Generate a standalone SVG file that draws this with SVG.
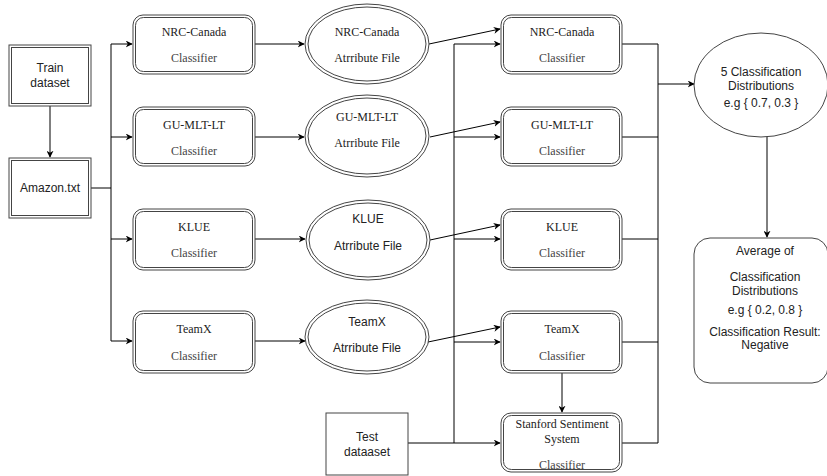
<svg xmlns="http://www.w3.org/2000/svg" width="827" height="476" viewBox="0 0 827 476">
<defs>
<marker id="ah" viewBox="0 0 10 10" refX="9" refY="5" markerWidth="7" markerHeight="7" orient="auto" markerUnits="userSpaceOnUse">
<path d="M0,0 L10,5 L0,10 L3,5 z" fill="#000"/>
</marker>
<style>
.b{fill:none;stroke:#444;stroke-width:1}
.w{fill:#fff;stroke:#444;stroke-width:1}
.c{fill:none;stroke:#000;stroke-width:1}
.a{fill:none;stroke:#000;stroke-width:1;marker-end:url(#ah)}
.s{font-family:"Liberation Sans",Arial,sans-serif;font-size:12px;fill:#222;text-anchor:middle}
.f{font-family:"Liberation Serif","Times New Roman",serif;font-size:12px;fill:#222;text-anchor:middle}
.g{fill:#444}
</style>
</defs>
<rect width="827" height="476" fill="#fff"/>
<g id="connectors">
<path class="a" d="M50,106 L50,157"/>
<path class="c" d="M91,188 L111,188 M111,44 L111,341"/>
<path class="a" d="M111,44 L132,44"/>
<path class="a" d="M111,137 L132,137"/>
<path class="a" d="M111,239 L132,239"/>
<path class="a" d="M111,341 L132,341"/>
<path class="a" d="M255,44 L304,44"/>
<path class="a" d="M255,137 L304,137"/>
<path class="a" d="M255,239 L305,239"/>
<path class="a" d="M255,341 L305,341"/>
<path class="a" d="M429,44 L500,29"/>
<path class="a" d="M430,137 L500,122"/>
<path class="a" d="M430,240 L500,225"/>
<path class="a" d="M428,342 L500,327"/>
<path class="c" d="M408,443 L454,443 M454,44 L454,443"/>
<path class="a" d="M454,44 L500,44"/>
<path class="a" d="M454,137 L500,137"/>
<path class="a" d="M454,239 L500,239"/>
<path class="a" d="M454,342 L500,342"/>
<path class="a" d="M454,443 L500,443"/>
<path class="a" d="M562,373 L562,412"/>
<path class="c" d="M622,44 L658,44 M622,137 L658,137 M622,239 L658,239 M622,342 L658,342 M622,443 L658,443 M658,44 L658,443"/>
<path class="a" d="M658,84 L694,84"/>
<path class="a" d="M767,137 L767,237"/>
</g>
<g id="train">
<rect class="b" x="9" y="45" width="82" height="61"/>
<rect class="b" x="11.5" y="47.5" width="77" height="56"/>
<text class="s" x="50" y="72">Train</text>
<text class="s" x="50" y="87">dataset</text>
</g>
<g id="amazon">
<rect class="b" x="9" y="158" width="82" height="60"/>
<rect class="b" x="11.5" y="160.5" width="77" height="55"/>
<text class="s" x="50" y="192">Amazon.txt</text>
</g>
<g id="c1-nrc">
<rect class="b" x="133" y="15" width="122" height="59" rx="10"/>
<rect class="b" x="135.5" y="17.5" width="117" height="54" rx="8"/>
<text class="f" x="194" y="36">NRC-Canada</text>
<text class="f g" x="194" y="62">Classifier</text>
</g>
<g id="c1-gu">
<rect class="b" x="133" y="107" width="122" height="59" rx="10"/>
<rect class="b" x="135.5" y="109.5" width="117" height="54" rx="8"/>
<text class="f" x="194" y="129">GU-MLT-LT</text>
<text class="f g" x="194" y="155">Classifier</text>
</g>
<g id="c1-klue">
<rect class="b" x="133" y="209" width="122" height="61" rx="10"/>
<rect class="b" x="135.5" y="211.5" width="117" height="56" rx="8"/>
<text class="f" x="194" y="231">KLUE</text>
<text class="f g" x="194" y="257">Classifier</text>
</g>
<g id="c1-teamx">
<rect class="b" x="133" y="311" width="122" height="62" rx="10"/>
<rect class="b" x="135.5" y="313.5" width="117" height="57" rx="8"/>
<text class="f" x="194" y="333">TeamX</text>
<text class="f g" x="194" y="360">Classifier</text>
</g>
<g id="e-nrc">
<ellipse class="b" cx="367" cy="44" rx="62" ry="40"/>
<ellipse class="b" cx="367" cy="44" rx="59" ry="37"/>
<text class="f" x="367" y="36">NRC-Canada</text>
<text class="f" x="367" y="62">Atrribute File</text>
</g>
<g id="e-gu">
<ellipse class="b" cx="367" cy="136" rx="62" ry="41"/>
<ellipse class="b" cx="367" cy="136" rx="59" ry="38"/>
<text class="f" x="367" y="121">GU-MLT-LT</text>
<text class="f" x="367" y="147">Atrribute File</text>
</g>
<g id="e-klue">
<ellipse class="b" cx="368" cy="240" rx="62" ry="40"/>
<ellipse class="b" cx="368" cy="240" rx="59" ry="37"/>
<text class="s" x="368" y="223">KLUE</text>
<text class="s" x="368" y="250">Atrribute File</text>
</g>
<g id="e-teamx">
<ellipse class="b" cx="367" cy="337" rx="62" ry="37"/>
<ellipse class="b" cx="367" cy="337" rx="59" ry="34"/>
<text class="s" x="367" y="326">TeamX</text>
<text class="s" x="367" y="352">Atrribute File</text>
</g>
<g id="c3-nrc">
<rect class="b" x="501" y="15" width="121" height="59" rx="10"/>
<rect class="b" x="503.5" y="17.5" width="116" height="54" rx="8"/>
<text class="f" x="562" y="36">NRC-Canada</text>
<text class="f g" x="562" y="62">Classifier</text>
</g>
<g id="c3-gu">
<rect class="b" x="501" y="107" width="121" height="59" rx="10"/>
<rect class="b" x="503.5" y="109.5" width="116" height="54" rx="8"/>
<text class="f" x="562" y="129">GU-MLT-LT</text>
<text class="f g" x="562" y="155">Classifier</text>
</g>
<g id="c3-klue">
<rect class="b" x="501" y="209" width="121" height="61" rx="10"/>
<rect class="b" x="503.5" y="211.5" width="116" height="56" rx="8"/>
<text class="f" x="562" y="231">KLUE</text>
<text class="f g" x="562" y="257">Classifier</text>
</g>
<g id="c3-teamx">
<rect class="b" x="501" y="311" width="121" height="62" rx="10"/>
<rect class="b" x="503.5" y="313.5" width="116" height="57" rx="8"/>
<text class="f" x="562" y="333">TeamX</text>
<text class="f g" x="562" y="360">Classifier</text>
</g>
<g id="stanford">
<rect class="b" x="501" y="413" width="121" height="59" rx="10"/>
<rect class="b" x="503.5" y="415.5" width="116" height="54" rx="8"/>
<text class="f" x="562" y="428">Stanford Sentiment</text>
<text class="f" x="562" y="443">System</text>
<text class="f g" x="562" y="469">Classifier</text>
</g>
<g id="test">
<rect class="b" x="326" y="413" width="82" height="62"/>
<text class="s" x="367" y="441">Test</text>
<text class="s" x="367" y="456">dataaset</text>
</g>
<g id="dist">
<ellipse class="b" cx="761" cy="85" rx="67" ry="52"/>
<text class="s" x="761" y="76">5 Classification</text>
<text class="s" x="761" y="90">Distributions</text>
<text class="s" x="761" y="107">e.g { 0.7, 0.3 }</text>
</g>
<g id="average">
<rect class="b" x="694" y="238" width="134" height="145" rx="16"/>
<text class="s" x="765" y="255">Average of</text>
<text class="s" x="765" y="281">Classification</text>
<text class="s" x="765" y="295">Distributions</text>
<text class="s" x="765" y="314">e.g { 0.2, 0.8 }</text>
<text class="s" x="765" y="336">Classification Result:</text>
<text class="s" x="765" y="349">Negative</text>
</g>
</svg>
